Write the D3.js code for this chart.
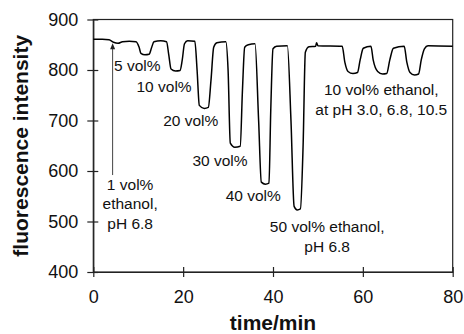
<!DOCTYPE html>
<html>
<head>
<meta charset="utf-8">
<script src="https://cdn.jsdelivr.net/npm/d3@7"></script>
<style>
  body { margin: 0; background: #fff; }
  text { font-family: "Liberation Sans", Arial, sans-serif; fill: #111; }
</style>
</head>
<body>
<script>
// fluorescence trace
var times = [0, 2, 3.5, 4.5, 5.5, 6.5, 8, 9.5, 10.2, 10.6, 11.5, 12.4, 13, 13.5, 15, 16.3,
  16.8, 17.3, 18.3, 19.3, 19.8, 20.3, 21, 22.6, 23.1, 23.6, 24.7, 25.6, 26.2, 26.8, 27.5, 29.5,
  30, 30.5, 31.5, 32.7, 33.2, 33.7, 34.5, 36, 36.8, 37.4, 38.3, 39.1, 39.5, 40, 40.8, 43.2,
  44, 44.7, 45.4, 46.1, 46.7, 47.2, 48, 49.5, 49.7, 50, 55.4, 56, 56.7, 57.8, 58.8, 59.4,
  60.1, 61.8, 62.3, 63.3, 64.4, 65.3, 66, 66.8, 69.2, 69.8, 70.5, 71.5, 72.4, 73, 73.7, 74.5, 80];
var intensity = [861, 861, 860, 855, 853, 856, 857, 856, 845, 833, 830, 831, 845, 856, 858, 856,
  830, 802, 798, 799, 820, 852, 858, 857, 800, 730, 724, 726, 780, 845, 854, 856,
  800, 655, 647, 649, 760, 845, 850, 852, 700, 578, 574, 576, 720, 842, 847, 848,
  700, 530, 523, 525, 650, 835, 846, 847, 854, 848, 847, 815, 797, 793, 795, 820,
  843, 847, 820, 797, 792, 793, 820, 843, 847, 815, 795, 790, 792, 820, 842, 848, 847];

var xTicks = [0, 20, 40, 60, 80];
var yTicks = [400, 500, 600, 700, 800, 900];

// annotations: [time, intensity] of each text line
var labels = [
  { t: 9.8, v: 798, lines: ["5 vol%"] },
  { t: 15.75, v: 757, lines: ["10 vol%"] },
  { t: 21.7, v: 689, lines: ["20 vol%"] },
  { t: 28.2, v: 610, lines: ["30 vol%"] },
  { t: 35.6, v: 541, lines: ["40 vol%"] },
  { t: 52.05, v: 479, lines: ["50 vol% ethanol,", "pH 6.8"] },
  { t: 8.2, v: 563, lines: ["1 vol%", "ethanol,", "pH 6.8"] },
  { t: 64.1, v: 751, lines: ["10 vol% ethanol,", "at pH 3.0, 6.8, 10.5"] }
];
var arrow = { t: 4.3, from: 592, to: 853 };

var width = 464, height = 334;
var margin = { top: 19.5, right: 11.3, bottom: 62, left: 93.3 };

var svg = d3.select("body").append("svg").attr("width", width).attr("height", height);

var x = d3.scaleLinear().domain([0, 80]).range([margin.left, width - margin.right]);
var y = d3.scaleLinear().domain([400, 900]).range([height - margin.bottom, margin.top]);

// frame (top and right)
svg.append("rect")
  .attr("x", x(0)).attr("y", y(900))
  .attr("width", x(80) - x(0)).attr("height", y(400) - y(900))
  .attr("fill", "none").attr("stroke", "#222").attr("stroke-width", 1.2);

// axes, ticks crossing the axis line
var xAxis = svg.append("g").attr("transform", "translate(0," + y(400) + ")")
  .call(d3.axisBottom(x).tickValues(xTicks).tickSize(0).tickPadding(18));
xAxis.selectAll(".tick").append("line").attr("y1", -5).attr("y2", 5).attr("stroke", "#222").attr("stroke-width", 1.2);
var yAxis = svg.append("g").attr("transform", "translate(" + x(0) + ",0)")
  .call(d3.axisLeft(y).tickValues(yTicks).tickSize(0).tickPadding(15));
yAxis.selectAll(".tick").append("line").attr("x1", -6).attr("x2", 5).attr("stroke", "#222").attr("stroke-width", 1.2);
svg.selectAll(".domain").attr("stroke", "#222").attr("stroke-width", 1.2);
svg.selectAll(".tick text").attr("font-size", 18).attr("font-family", "Liberation Sans, Arial, sans-serif").attr("fill", "#111");

// axis titles
svg.append("text")
  .attr("x", (x(0) + x(80)) / 2).attr("y", 330)
  .attr("text-anchor", "middle").attr("font-size", 21).attr("font-weight", "bold")
  .text("time/min");
svg.append("text")
  .attr("transform", "translate(28," + (y(400) + y(900)) / 2 + ") rotate(-90)")
  .attr("text-anchor", "middle").attr("font-size", 21).attr("font-weight", "bold")
  .text("fluorescence intensity");

// trace
var pts = d3.zip(times, intensity);
svg.append("path").datum(pts)
  .attr("fill", "none").attr("stroke", "#000").attr("stroke-width", 1.5)
  .attr("stroke-linejoin", "round")
  .attr("d", d3.line().x(function (d) { return x(d[0]); }).y(function (d) { return y(d[1]); })
    .curve(d3.curveMonotoneX));

// arrow
svg.append("line")
  .attr("x1", x(arrow.t)).attr("x2", x(arrow.t))
  .attr("y1", y(arrow.from)).attr("y2", y(arrow.to) + 5)
  .attr("stroke", "#444").attr("stroke-width", 1);
svg.append("path")
  .attr("d", "M" + x(arrow.t) + "," + y(arrow.to) + "l-2.5,6h5z")
  .attr("fill", "#222");

// annotation text
labels.forEach(function (l) {
  var t = svg.append("text").attr("text-anchor", "middle").attr("font-size", 15.5);
  l.lines.forEach(function (s, i) {
    t.append("tspan").attr("x", x(l.t)).attr("y", y(l.v) + i * 19.8).text(s);
  });
});
</script>
</body>
</html>
